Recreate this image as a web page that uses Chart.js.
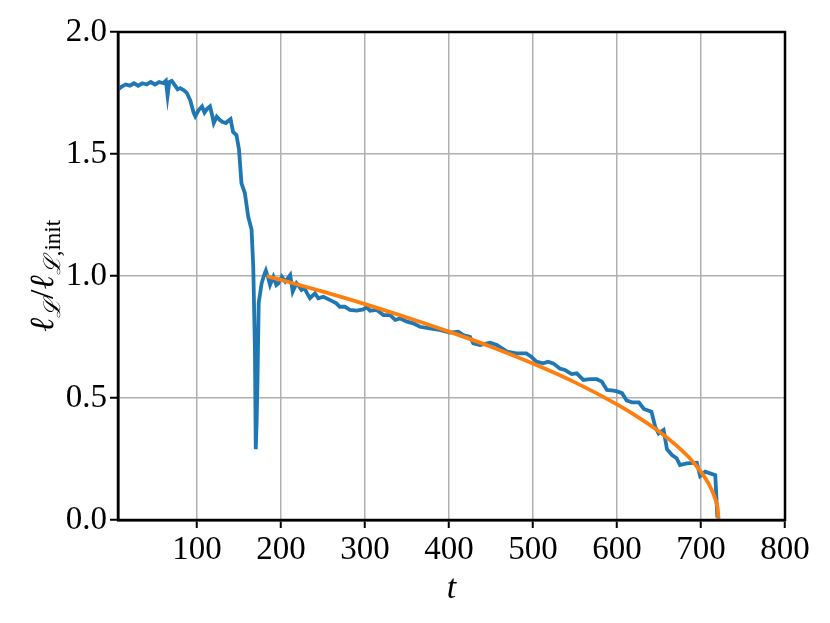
<!DOCTYPE html>
<html>
<head>
<meta charset="utf-8">
<script src="https://cdn.jsdelivr.net/npm/chart.js@4"></script>
<style>
html,body{margin:0;padding:0;background:#fff;}
canvas{display:block;}
</style>
</head>
<body>
<canvas id="c" width="830" height="623"></canvas>
<script>
// Measured series (t, normalized length)
const tMeasured = [6,10,15,20,25,30,35,40,45,50,55,60,63,65,67,70,74,77,80,85,88,92,96,98,102,106,109,112,115.5,118,120,123.5,127,130,134.5,137,140,143,147,150,153,157,161,165,167,169,170,171,172,173.5,177,180,182,185,187,191,194.5,197,201,205,208,211,214,218.5,221,224.5,228,231,234.5,240.5,244.5,250.5,258,266,270,276,282,290,298,302,306,314,322,330,336,342,350,357.5,365.5,377,389,401,411,417,425,429,437,449,457,469,480,492,498,504,512,518,524,532,538,546,552,560,568,576,582,588,596,601,606,611.5,618,626,632,641,645.5,649.5,655.5,659.5,665.5,671,675,683,695,699,705,717,719.5];
const vMeasured = [1.765,1.775,1.785,1.78,1.79,1.78,1.79,1.785,1.795,1.785,1.795,1.79,1.80,1.74,1.795,1.80,1.78,1.765,1.77,1.76,1.75,1.72,1.67,1.655,1.68,1.695,1.67,1.685,1.695,1.66,1.627,1.653,1.64,1.632,1.627,1.635,1.643,1.59,1.578,1.52,1.38,1.34,1.243,1.19,1.04,0.70,0.29,0.40,0.56,0.89,0.97,1.005,1.022,0.99,0.963,0.997,0.963,0.97,0.997,0.977,0.99,1.004,0.936,0.97,0.96,0.943,0.95,0.93,0.909,0.929,0.909,0.915,0.902,0.888,0.874,0.874,0.861,0.858,0.863,0.872,0.858,0.861,0.84,0.84,0.82,0.826,0.813,0.806,0.792,0.785,0.779,0.768,0.772,0.758,0.751,0.724,0.717,0.727,0.717,0.69,0.683,0.683,0.669,0.649,0.642,0.649,0.642,0.621,0.615,0.598,0.601,0.574,0.577,0.577,0.567,0.533,0.53,0.526,0.52,0.49,0.482,0.482,0.455,0.444,0.382,0.355,0.369,0.29,0.266,0.253,0.225,0.232,0.235,0.18,0.198,0.184,0.01];

// Fitted curve, values
const tFit = [183,200,250,300,350,400,450,500,550,600,625,650,670,685,697,706,712,716,718.5,720,721];
const vFit = [1.000,0.984,0.936,0.885,0.830,0.772,0.710,0.641,0.564,0.474,0.422,0.363,0.308,0.259,0.211,0.167,0.129,0.096,0.068,0.043,0.0];

const xTicks = [100,200,300,400,500,600,700,800];
const yTicks = [0.0,0.5,1.0,1.5,2.0];

const measuredPts = tMeasured.map((t,i)=>({x:t,y:vMeasured[i]}));
const fitPts = tFit.map((t,i)=>({x:t,y:vFit[i]}));

const SERIF = '"Liberation Serif","DejaVu Serif",serif';

const framePlugin = {
  id:'frame',
  afterDraw(chart){
    const {ctx, chartArea:a} = chart;
    ctx.save();
    ctx.strokeStyle = '#000';
    ctx.lineWidth = 2.5;
    ctx.strokeRect(a.left, a.top, a.right-a.left, a.bottom-a.top);
    // x-axis title
    ctx.fillStyle = '#000';
    ctx.font = 'italic 34px ' + SERIF;
    ctx.textAlign = 'center';
    ctx.textBaseline = 'alphabetic';
    ctx.fillText('t', (a.left+a.right)/2, 598);
    // y-axis title (rotated), built from pieces
    const big = 'italic 34px "DejaVu Serif",serif';
    const sub = 'italic 23px "DejaVu Serif",serif';
    const subR = '23px "Liberation Serif","DejaVu Serif",serif';
    const pieces = [
      {t:'ℓ', f:big, dy:0},
      {t:'ℒ', f:sub, dy:7},
      {t:'/', f:'34px ' + SERIF, dy:0},
      {t:'ℓ', f:big, dy:0},
      {t:'ℒ', f:sub, dy:7},
      {t:',init', f:subR, dy:7}
    ];
    let total = 0;
    pieces.forEach(p=>{ctx.font=p.f; p.w=ctx.measureText(p.t).width; total+=p.w;});
    ctx.translate(53, 276);
    ctx.rotate(-Math.PI/2);
    ctx.textAlign = 'left';
    let x = -total/2;
    pieces.forEach(p=>{ctx.font=p.f; ctx.fillText(p.t, x, p.dy); x+=p.w;});
    ctx.restore();
  }
};

new Chart(document.getElementById('c'), {
  type:'line',
  data:{
    datasets:[
      {data:measuredPts, borderColor:'#1f77b4', borderWidth:3.8, pointRadius:0, tension:0, fill:false, order:2},
      {data:fitPts, borderColor:'#ff7f0e', borderWidth:3.8, pointRadius:0, cubicInterpolationMode:'monotone', fill:false, order:1}
    ]
  },
  options:{
    responsive:false,
    animation:false,
    layout:{padding:{left:0, top:32, right:45, bottom:0}},
    plugins:{legend:{display:false}, tooltip:{enabled:false}},
    scales:{
      x:{
        type:'linear', min:6, max:800,
        afterBuildTicks(s){ s.ticks = xTicks.map(v=>({value:v})); },
        afterFit(s){ s.height = 103; },
        grid:{color:'#b0b0b0', lineWidth:1.5, tickColor:'#000', tickLength:8, tickWidth:2},
        border:{color:'#000', width:2.5},
        ticks:{color:'#000', font:{family:SERIF, size:33}, padding:3, maxRotation:0, autoSkip:false}
      },
      y:{
        type:'linear', min:0, max:2,
        afterBuildTicks(s){ s.ticks = yTicks.map(v=>({value:v})); },
        afterFit(s){ s.width = 118; },
        grid:{color:'#b0b0b0', lineWidth:1.5, tickColor:'#000', tickLength:8, tickWidth:2},
        border:{color:'#000', width:2.5},
        ticks:{color:'#000', font:{family:SERIF, size:33}, padding:3, callback:v=>Number(v).toFixed(1)}
      }
    }
  },
  plugins:[framePlugin]
});
</script>
</body>
</html>
